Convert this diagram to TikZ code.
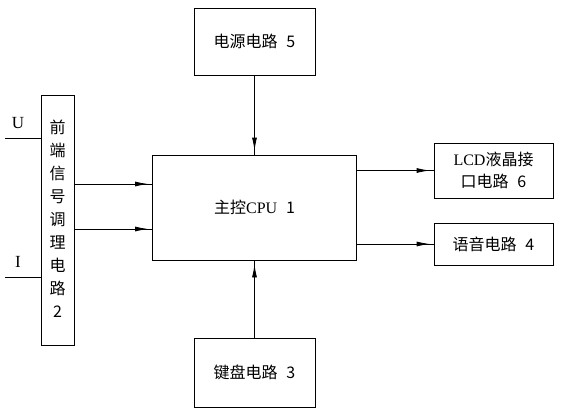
\documentclass[tikz,border=0pt]{standalone}
\usepackage{fontspec}
\setmainfont{Liberation Serif}
\newfontfamily\cjk{Noto Sans CJK SC}
\usetikzlibrary{arrows.meta,decorations.markings}
\newcommand{\gap}{\hspace{0.55em}}
\begin{document}
\begin{tikzpicture}[x=1pt,y=-1pt,
  blk/.style={draw,line width=0.8pt,inner sep=0pt,font=\cjk\fontsize{16}{22}\selectfont},
  lat/.style={font=\fontsize{17}{18}\selectfont},
  conn/.style={line width=0.8pt,postaction={decorate},
    decoration={markings,mark=at position -4pt with {\arrow{Latex[length=13pt,width=5pt]}}}},
  plain/.style={line width=0.8pt}]
\useasboundingbox (0,0) rectangle (566,416);
\node[blk,minimum width=121pt,minimum height=67pt] (pwr) at (254.5,41.5) {电源电路\gap 5};
\node[blk,minimum width=204pt,minimum height=105pt] (cpu) at (254.5,207.5) {主控{\fontspec{Liberation Serif}CPU}\gap 1};
\node[blk,minimum width=33pt,minimum height=250pt] (fe) at (57.5,220) {};
\node[font=\cjk\fontsize{16}{23}\selectfont,align=center,inner sep=0pt] (fet) at (57.5,218.5) {前\\端\\信\\号\\调\\理\\电\\路\\2};
\node[blk,minimum width=119pt,minimum height=55pt,align=center] (lcd) at (493.5,170.5) {{\fontspec{Liberation Serif}LCD}液晶接\\口电路\gap 6};
\node[blk,minimum width=119pt,minimum height=42pt] (voice) at (493.5,244) {语音电路\gap 4};
\node[blk,minimum width=121pt,minimum height=69pt] (kbd) at (254.5,372.5) {键盘电路\gap 3};
\node[lat] (ulbl) at (18,123) {U};
\node[lat] (ilbl) at (18,262) {I};
\coordinate (uend) at (5,138);
\coordinate (iend) at (5,277);
\coordinate (a1) at (0,184);
\coordinate (a2) at (0,229);
\draw[plain] (uend) -- (fe.west |- uend);
\draw[plain] (iend) -- (fe.west |- iend);
\draw[conn] (fe.east |- a1) -- (cpu.west |- a1);
\draw[conn] (fe.east |- a2) -- (cpu.west |- a2);
\draw[conn] (pwr.south) -- (cpu.north);
\draw[conn] (kbd.north) -- (cpu.south);
\draw[conn] (cpu.east |- lcd.west) -- (lcd.west);
\draw[conn] (cpu.east |- voice.west) -- (voice.west);
\end{tikzpicture}
\end{document}
